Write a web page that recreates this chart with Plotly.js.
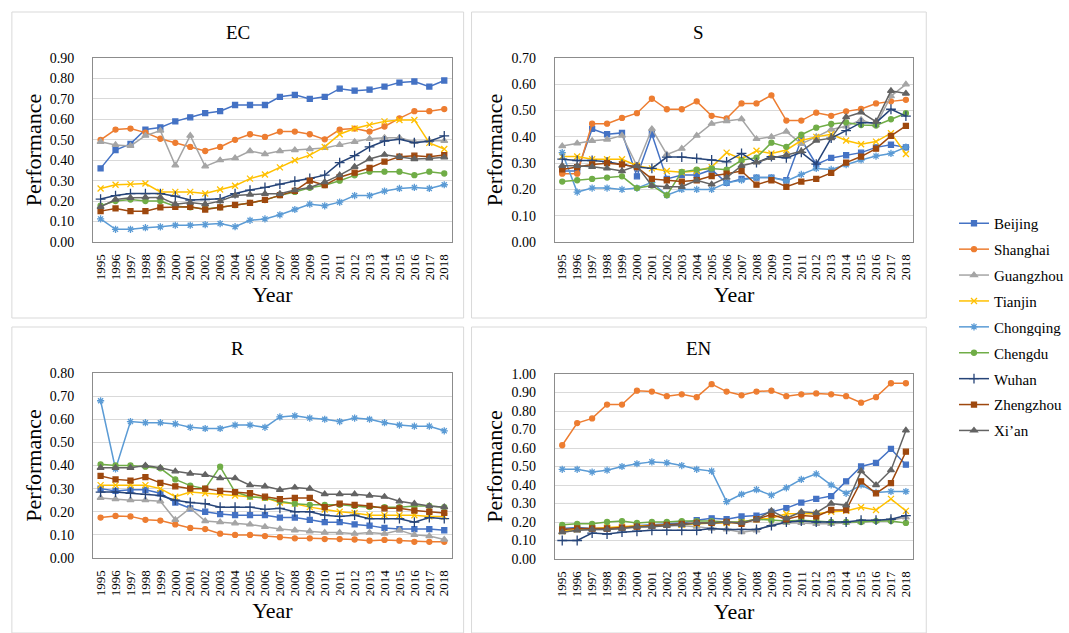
<!DOCTYPE html>
<html>
<head>
<meta charset="utf-8">
<script src="https://cdn.plot.ly/plotly-3.0.1.min.js"></script>
<style>html,body{margin:0;padding:0;background:#fff;}#chart{width:1069px;height:633px;}</style>
</head>
<body>
<div id="chart"></div>
<script>
const years = ['1995','1996','1997','1998','1999','2000','2001','2002','2003','2004','2005','2006','2007','2008','2009','2010','2011','2012','2013','2014','2015','2016','2017','2018'];
const cities = ['Beijing','Shanghai','Guangzhou','Tianjin','Chongqing','Chengdu','Wuhan','Zhengzhou','Xi\u2019an'];
const panelTitles = ['EC','S','R','EN'];

// EC
const ecBeijing   = [0.36,0.45,0.48,0.55,0.56,0.59,0.61,0.63,0.64,0.67,0.67,0.67,0.71,0.72,0.70,0.71,0.75,0.74,0.745,0.76,0.78,0.785,0.76,0.79];
const ecShanghai  = [0.50,0.55,0.555,0.535,0.505,0.485,0.465,0.445,0.465,0.50,0.527,0.514,0.54,0.54,0.527,0.502,0.55,0.555,0.54,0.565,0.605,0.64,0.64,0.65];
const ecGuangzhou = [0.49,0.475,0.47,0.52,0.545,0.375,0.52,0.37,0.40,0.41,0.445,0.43,0.445,0.45,0.455,0.46,0.475,0.49,0.505,0.51,0.51,0.49,0.495,0.495];
const ecTianjin   = [0.262,0.28,0.283,0.286,0.245,0.245,0.245,0.237,0.257,0.275,0.31,0.33,0.365,0.40,0.425,0.465,0.527,0.555,0.573,0.59,0.597,0.597,0.485,0.455];
const ecChongqing = [0.113,0.062,0.062,0.07,0.074,0.082,0.082,0.085,0.09,0.075,0.106,0.113,0.133,0.159,0.185,0.177,0.195,0.227,0.227,0.249,0.262,0.267,0.262,0.28];
const ecChengdu   = [0.178,0.20,0.208,0.20,0.20,0.175,0.17,0.162,0.17,0.18,0.191,0.205,0.229,0.245,0.265,0.278,0.30,0.326,0.344,0.344,0.344,0.327,0.344,0.335];
const ecWuhan     = [0.21,0.227,0.237,0.237,0.237,0.224,0.205,0.208,0.211,0.237,0.254,0.267,0.283,0.298,0.311,0.327,0.388,0.422,0.465,0.494,0.502,0.486,0.493,0.519];
const ecZhengzhou = [0.151,0.164,0.151,0.151,0.169,0.172,0.172,0.159,0.169,0.182,0.191,0.206,0.229,0.25,0.30,0.278,0.317,0.339,0.362,0.393,0.417,0.422,0.417,0.425];
const ecXian      = [0.172,0.208,0.216,0.218,0.218,0.185,0.193,0.185,0.20,0.227,0.232,0.236,0.236,0.254,0.267,0.293,0.327,0.368,0.406,0.427,0.417,0.406,0.409,0.414];

// S
const sBeijing   = [0.27,0.27,0.43,0.41,0.415,0.25,0.41,0.24,0.255,0.255,0.275,0.225,0.24,0.245,0.245,0.235,0.39,0.295,0.32,0.33,0.34,0.36,0.37,0.36];
const sShanghai  = [0.26,0.26,0.45,0.45,0.472,0.49,0.545,0.505,0.505,0.535,0.48,0.47,0.527,0.527,0.558,0.462,0.462,0.492,0.48,0.497,0.506,0.527,0.535,0.541];
const sGuangzhou = [0.365,0.375,0.385,0.39,0.405,0.29,0.43,0.333,0.355,0.405,0.45,0.46,0.468,0.392,0.40,0.42,0.373,0.40,0.428,0.44,0.465,0.445,0.555,0.60];
const sTianjin   = [0.325,0.325,0.315,0.315,0.315,0.29,0.28,0.27,0.265,0.27,0.285,0.34,0.315,0.347,0.337,0.35,0.386,0.40,0.41,0.386,0.372,0.382,0.414,0.335];
const sChongqing = [0.34,0.19,0.205,0.205,0.20,0.205,0.227,0.178,0.20,0.20,0.20,0.225,0.235,0.245,0.245,0.232,0.257,0.28,0.276,0.294,0.312,0.327,0.337,0.361];
const sChengdu   = [0.23,0.235,0.24,0.245,0.25,0.205,0.215,0.178,0.267,0.275,0.28,0.275,0.311,0.321,0.378,0.362,0.408,0.435,0.449,0.455,0.445,0.443,0.467,0.49];
const sWuhan     = [0.315,0.31,0.31,0.305,0.295,0.285,0.28,0.323,0.323,0.318,0.312,0.305,0.337,0.302,0.325,0.32,0.341,0.296,0.395,0.424,0.454,0.454,0.505,0.479];
const sZhengzhou = [0.276,0.285,0.295,0.30,0.295,0.285,0.24,0.235,0.23,0.235,0.251,0.26,0.27,0.218,0.235,0.21,0.23,0.24,0.263,0.302,0.325,0.355,0.404,0.442];
const sXian      = [0.29,0.29,0.286,0.28,0.27,0.29,0.214,0.21,0.21,0.235,0.219,0.245,0.29,0.303,0.32,0.331,0.345,0.386,0.395,0.475,0.493,0.458,0.575,0.565];

// R
const rBeijing   = [0.30,0.29,0.295,0.295,0.28,0.24,0.215,0.20,0.19,0.185,0.185,0.185,0.175,0.175,0.165,0.155,0.155,0.145,0.14,0.13,0.125,0.125,0.125,0.12];
const rShanghai  = [0.175,0.182,0.18,0.165,0.162,0.145,0.13,0.125,0.105,0.10,0.10,0.095,0.09,0.085,0.085,0.082,0.082,0.08,0.075,0.078,0.075,0.07,0.07,0.07];
const rGuangzhou = [0.26,0.255,0.25,0.25,0.245,0.165,0.215,0.16,0.155,0.15,0.145,0.135,0.125,0.12,0.115,0.11,0.11,0.105,0.11,0.105,0.12,0.10,0.095,0.08];
const rTianjin   = [0.315,0.315,0.315,0.315,0.30,0.265,0.285,0.28,0.275,0.27,0.265,0.26,0.24,0.235,0.22,0.21,0.20,0.195,0.185,0.185,0.185,0.185,0.18,0.18];
const rChongqing = [0.68,0.385,0.59,0.585,0.585,0.58,0.565,0.56,0.56,0.575,0.575,0.565,0.61,0.615,0.605,0.60,0.59,0.605,0.60,0.585,0.575,0.57,0.57,0.55];
const rChengdu   = [0.405,0.40,0.40,0.395,0.388,0.34,0.313,0.30,0.395,0.285,0.265,0.26,0.245,0.235,0.23,0.23,0.23,0.225,0.22,0.22,0.22,0.225,0.225,0.22];
const rWuhan     = [0.285,0.285,0.28,0.275,0.27,0.25,0.24,0.235,0.22,0.22,0.22,0.21,0.215,0.20,0.20,0.185,0.18,0.185,0.17,0.17,0.17,0.155,0.175,0.17];
const rZhengzhou = [0.355,0.34,0.335,0.35,0.325,0.31,0.30,0.30,0.29,0.285,0.28,0.265,0.255,0.26,0.26,0.22,0.235,0.23,0.225,0.215,0.215,0.205,0.20,0.195];
const rXian      = [0.39,0.39,0.39,0.40,0.39,0.375,0.365,0.36,0.345,0.345,0.315,0.31,0.295,0.305,0.30,0.276,0.276,0.276,0.27,0.265,0.245,0.235,0.225,0.22];

// EN
const enBeijing   = [0.165,0.17,0.165,0.165,0.17,0.18,0.185,0.19,0.195,0.21,0.22,0.215,0.23,0.235,0.255,0.275,0.305,0.325,0.34,0.42,0.50,0.52,0.595,0.51];
const enShanghai  = [0.615,0.735,0.76,0.835,0.835,0.91,0.905,0.88,0.89,0.875,0.945,0.905,0.885,0.905,0.91,0.88,0.89,0.895,0.89,0.88,0.845,0.875,0.95,0.95];
const enGuangzhou = [0.145,0.155,0.16,0.16,0.165,0.17,0.175,0.18,0.18,0.175,0.165,0.16,0.145,0.155,0.185,0.195,0.195,0.19,0.19,0.195,0.20,0.205,0.21,0.225];
const enTianjin   = [0.15,0.16,0.165,0.17,0.175,0.18,0.18,0.185,0.185,0.19,0.195,0.195,0.20,0.215,0.22,0.245,0.245,0.245,0.255,0.26,0.28,0.265,0.325,0.26];
const enChongqing = [0.485,0.485,0.47,0.48,0.50,0.515,0.525,0.52,0.505,0.485,0.475,0.31,0.35,0.375,0.345,0.385,0.43,0.46,0.40,0.355,0.40,0.36,0.365,0.365];
const enChengdu   = [0.185,0.19,0.19,0.20,0.205,0.195,0.20,0.20,0.205,0.205,0.205,0.20,0.20,0.215,0.21,0.205,0.21,0.205,0.20,0.20,0.20,0.205,0.205,0.195];
const enWuhan     = [0.10,0.10,0.14,0.135,0.145,0.15,0.155,0.155,0.155,0.155,0.165,0.16,0.16,0.16,0.18,0.20,0.205,0.20,0.20,0.20,0.21,0.21,0.215,0.235];
const enZhengzhou = [0.16,0.165,0.165,0.165,0.17,0.175,0.18,0.185,0.19,0.195,0.195,0.20,0.19,0.215,0.24,0.215,0.235,0.23,0.265,0.265,0.42,0.355,0.41,0.58];
const enXian      = [0.145,0.155,0.16,0.16,0.165,0.175,0.175,0.18,0.185,0.195,0.195,0.20,0.195,0.215,0.26,0.22,0.255,0.25,0.30,0.29,0.475,0.40,0.48,0.695];

const panelSeries = [
  [ecBeijing, ecShanghai, ecGuangzhou, ecTianjin, ecChongqing, ecChengdu, ecWuhan, ecZhengzhou, ecXian],
  [sBeijing, sShanghai, sGuangzhou, sTianjin, sChongqing, sChengdu, sWuhan, sZhengzhou, sXian],
  [rBeijing, rShanghai, rGuangzhou, rTianjin, rChongqing, rChengdu, rWuhan, rZhengzhou, rXian],
  [enBeijing, enShanghai, enGuangzhou, enTianjin, enChongqing, enChengdu, enWuhan, enZhengzhou, enXian]
];
const yMax = [0.9, 0.7, 0.8, 1.0];

const colors = ['#4472C4','#ED7D31','#A5A5A5','#FFC000','#5B9BD5','#70AD47','#264478','#9E480E','#636363'];
const symbols = ['square','circle','triangle-up','x-thin-open','asterisk-open','circle','cross-thin-open','square','triangle-up'];
const msizes = [5,5,6,6,6,5,7,5,6];

const W = 1069, H = 633;
const px = v => v / W;
const py = v => 1 - v / H;

// plot areas in pixels [left, right, top, bottom]
const areas = [
  [94, 456, 58, 242],
  [560, 922, 58, 242],
  [94, 456, 373, 558],
  [560, 922, 374, 559]
];
// panel frames in pixels
const frames = [
  [12, 468, 12, 318],
  [476, 935, 12, 318],
  [12, 468, 327, 633],
  [476, 935, 327, 633]
];

const FONT = '"Liberation Serif", "Times New Roman", serif';
const traces = [];
panelSeries.forEach((series, p) => {
  const sfx = p === 0 ? '' : String(p + 1);
  series.forEach((vals, c) => {
    traces.push({
      type: 'scatter', mode: 'lines+markers',
      x: years, y: vals, name: cities[c],
      legendgroup: cities[c], showlegend: p === 0,
      xaxis: 'x' + sfx, yaxis: 'y' + sfx,
      line: {color: colors[c], width: 1.5},
      marker: {symbol: symbols[c], size: msizes[c], color: colors[c], line: {color: colors[c], width: 1.3}}
    });
  });
});

const layout = {
  width: W, height: H,
  margin: {l: 0, r: 0, t: 0, b: 0},
  paper_bgcolor: '#ffffff', plot_bgcolor: '#ffffff',
  font: {family: FONT, color: '#000000'},
  showlegend: true,
  legend: {
    x: px(963), y: py(207), xanchor: 'left', yanchor: 'top',
    font: {family: FONT, size: 15, color: '#000'},
    itemwidth: 30, tracegroupgap: 3.4, bgcolor: 'rgba(0,0,0,0)'
  },
  annotations: [],
  shapes: []
};

areas.forEach((a, p) => {
  const sfx = p === 0 ? '' : String(p + 1);
  layout['xaxis' + sfx] = {
    domain: [px(a[0]), px(a[1])], anchor: 'y' + sfx,
    type: 'category', range: [-0.5, 23.5], tickmode: 'linear', tick0: 0, dtick: 1,
    tickangle: -90, tickfont: {family: FONT, size: 13, color: '#000'},
    ticklabelstandoff: 6,
    showgrid: false, zeroline: false,
    showline: true, mirror: true, linecolor: '#8c8c8c', linewidth: 1,
    title: {text: 'Year', font: {family: FONT, size: 22, color: '#000'}, standoff: 7},
    fixedrange: true
  };
  layout['yaxis' + sfx] = {
    domain: [py(a[3]), py(a[2])], anchor: 'x' + sfx,
    range: [0, yMax[p]], dtick: 0.1, tick0: 0, tickformat: '.2f',
    tickfont: {family: FONT, size: 14, color: '#000'},
    ticklabelstandoff: 15,
    showgrid: true, gridcolor: '#d9d9d9', gridwidth: 1, zeroline: false,
    showline: true, mirror: true, linecolor: '#8c8c8c', linewidth: 1,
    title: {text: 'Performance', font: {family: FONT, size: 22, color: '#000'}, standoff: 2},
    fixedrange: true
  };
  const f = frames[p];
  layout.shapes.push({type: 'rect', xref: 'paper', yref: 'paper', layer: 'below',
    x0: px(f[0]), x1: px(f[1]), y0: py(f[3]), y1: py(f[2]),
    line: {color: '#d9d9d9', width: 1}, fillcolor: 'rgba(0,0,0,0)'});
  layout.annotations.push({
    text: panelTitles[p], xref: 'paper', yref: 'paper',
    x: px((f[0] + f[1]) / 2), y: py(p < 2 ? 32 : 348), xanchor: 'center', yanchor: 'middle',
    showarrow: false, font: {family: FONT, size: 19, color: '#000'}
  });
});

Plotly.newPlot('chart', traces, layout, {staticPlot: true, displayModeBar: false});
</script>
</body>
</html>
